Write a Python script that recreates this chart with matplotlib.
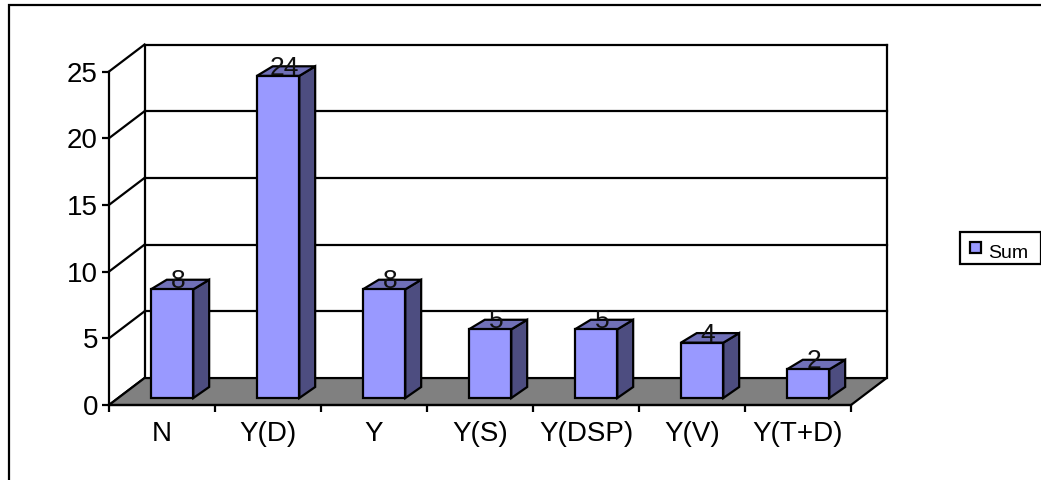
import matplotlib
matplotlib.use('Agg')
import matplotlib.pyplot as plt
from matplotlib.lines import Line2D
from matplotlib.patches import Polygon, Rectangle

categories = ['N', 'Y(D)', 'Y', 'Y(S)', 'Y(DSP)', 'Y(V)', 'Y(T+D)']
sums = [8, 24, 8, 5, 5, 4, 2]
y_ticks = [0, 5, 10, 15, 20, 25]

FRONT = '#9999FF'
SIDE = '#4D4D80'
TOP = '#7070B8'
FLOOR = '#808080'
LW = 1.6

# depth of the fake 3d box, in data units (categories / value)
DX = 0.335
DY = 2.02
# bar placement inside that depth
BAR_W = 0.40
BAR_DX0 = 0.095
BAR_Y0 = 0.52
BAR_Y1 = 0.67
BAR_DX = 0.15
BAR_DY0 = 0.83
BAR_DY1 = 0.72

W, H = 1041, 480
plt.rcParams['font.family'] = ['Liberation Sans', 'DejaVu Sans']

fig = plt.figure(figsize=(W / 100, H / 100), dpi=100)
# the frame only shows on the left and top, the rest is cut off
fig.add_artist(Line2D([9 / W, 9 / W, 1], [0, 1 - 4.5 / H, 1 - 4.5 / H], color='black', lw=LW,
                      solid_joinstyle='miter'))

ax = fig.add_axes([109 / W, 75 / H, 742 / W, 333.5 / H])
ax.set_xlim(0, 7)
ax.set_ylim(0, 25)
ax.patch.set_visible(False)
for s in ['top', 'right']:
    ax.spines[s].set_visible(False)
for s in ['left', 'bottom']:
    ax.spines[s].set_linewidth(LW)
    ax.spines[s].set_zorder(20)

n = len(categories)
ymax = y_ticks[-1]

# back wall and side wall grid
for v in y_ticks[1:]:
    ax.plot([DX, n + DX], [v + DY, v + DY], color='black', lw=LW, zorder=1, clip_on=False)
for v in y_ticks:
    ax.plot([0, DX], [v, v + DY], color='black', lw=LW, zorder=1, clip_on=False)
ax.plot([DX, DX], [DY, ymax + DY], color='black', lw=LW, zorder=1, clip_on=False)
ax.plot([n + DX, n + DX], [DY, ymax + DY], color='black', lw=LW, zorder=1, clip_on=False)

# floor
ax.add_patch(Polygon([(0, 0), (n, 0), (n + DX, DY), (DX, DY)], closed=True, fc=FLOOR,
                     ec='black', lw=LW, zorder=2, clip_on=False))

# bars
for i, val in enumerate(sums):
    x0 = i + 0.5 - BAR_W / 2 + BAR_DX0
    x1 = x0 + BAR_W
    y0 = BAR_Y0
    y1 = val + BAR_Y1
    ax.add_patch(Polygon([(x1, y0), (x1 + BAR_DX, y0 + BAR_DY0), (x1 + BAR_DX, y1 + BAR_DY1), (x1, y1)],
                         closed=True, fc=SIDE, ec='black', lw=LW, zorder=3, clip_on=False))
    ax.add_patch(Polygon([(x0, y1), (x1, y1), (x1 + BAR_DX, y1 + BAR_DY1), (x0 + BAR_DX, y1 + BAR_DY1)],
                         closed=True, fc=TOP, ec='black', lw=LW, zorder=3, clip_on=False))
    ax.add_patch(Rectangle((x0, y0), BAR_W, y1 - y0, fc=FRONT, ec='black', lw=LW, zorder=4, clip_on=False))
    ax.text((x0 + x1) / 2 + 0.057, y1 + 0.08, str(val), ha='center', va='baseline', fontsize=19,
            color='#111111', zorder=5, clip_on=False)

ax.set_yticks(y_ticks)
ax.tick_params(axis='y', length=5, width=LW, pad=3, labelsize=20)
ax.set_xticks(range(n + 1))
ax.set_xticklabels([])
ax.tick_params(axis='x', which='major', length=5, width=LW)
ax.set_xticks([i + 0.5 for i in range(n)], minor=True)
ax.set_xticklabels(categories, minor=True, fontsize=20)
ax.tick_params(axis='x', which='minor', length=0, pad=11.5)

# legend box
fig.add_artist(Rectangle((960 / W, 1 - 264 / H), 80.5 / W, 32.5 / H, fc='white', ec='black',
                         lw=LW, transform=fig.transFigure))
fig.add_artist(Rectangle((969.5 / W, 1 - 253.5 / H), 11.5 / W, 11.5 / H, fc=FRONT, ec='black',
                         lw=LW, transform=fig.transFigure))
fig.text(988 / W, 1 - 258 / H, 'Sum', fontsize=14, va='baseline', ha='left')

fig.savefig('out.png', dpi=100)
